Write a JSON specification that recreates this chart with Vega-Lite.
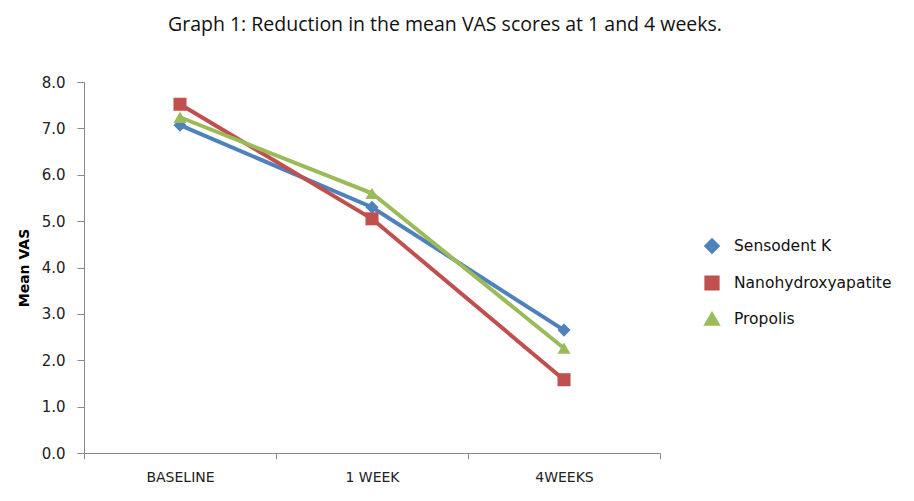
{
  "$schema": "https://vega.github.io/schema/vega-lite/v6.json",
  "width": 576,
  "height": 371,
  "autosize": {"type": "none"},
  "padding": {"left": 84, "top": 82, "right": 254, "bottom": 48},
  "background": "white",
  "title": {
    "text": "Graph 1: Reduction in the mean VAS scores at 1 and 4 weeks.",
    "font": "Open Sans",
    "fontSize": 19.5,
    "fontWeight": "normal",
    "color": "#111111",
    "anchor": "middle",
    "dx": 73,
    "offset": 40
  },
  "config": {"view": {"stroke": null}},
  "data": {
    "values": [
      {"time": "BASELINE", "group": "Sensodent K", "vas": 7.07},
      {"time": "1 WEEK", "group": "Sensodent K", "vas": 5.3},
      {"time": "4WEEKS", "group": "Sensodent K", "vas": 2.65},
      {"time": "BASELINE", "group": "Nanohydroxyapatite", "vas": 7.52},
      {"time": "1 WEEK", "group": "Nanohydroxyapatite", "vas": 5.05},
      {"time": "4WEEKS", "group": "Nanohydroxyapatite", "vas": 1.58},
      {"time": "BASELINE", "group": "Propolis", "vas": 7.24},
      {"time": "1 WEEK", "group": "Propolis", "vas": 5.6},
      {"time": "4WEEKS", "group": "Propolis", "vas": 2.26}
    ]
  },
  "encoding": {
    "x": {
      "field": "time",
      "type": "nominal",
      "sort": ["BASELINE", "1 WEEK", "4WEEKS"],
      "scale": {"paddingInner": 0, "paddingOuter": 0},
      "axis": {
        "title": null,
        "labelAngle": 0,
        "tickBand": "extent",
        "domainColor": "#888888",
        "tickColor": "#888888",
        "tickSize": 6,
        "labelFont": "DejaVu Sans",
        "labelFontSize": 14,
        "labelColor": "#222222",
        "labelPadding": 11
      }
    },
    "y": {
      "field": "vas",
      "type": "quantitative",
      "scale": {"domain": [0, 8]},
      "axis": {
        "title": "Mean VAS",
        "titleFont": "DejaVu Sans",
        "titleFontSize": 14,
        "titleFontWeight": "bold",
        "titleColor": "#000000",
        "titlePadding": 10,
        "format": ".1f",
        "values": [0, 1, 2, 3, 4, 5, 6, 7, 8],
        "labelOverlap": false,
        "grid": false,
        "domainColor": "#888888",
        "tickColor": "#888888",
        "tickSize": 7,
        "labelFont": "DejaVu Sans",
        "labelFontSize": 15,
        "labelColor": "#222222",
        "labelPadding": 12
      }
    },
    "color": {
      "field": "group",
      "type": "nominal",
      "sort": ["Sensodent K", "Nanohydroxyapatite", "Propolis"],
      "scale": {
        "domain": ["Sensodent K", "Nanohydroxyapatite", "Propolis"],
        "range": ["#4F81BD", "#C0504D", "#9BBB59"]
      },
      "legend": {
        "title": null,
        "orient": "none",
        "legendX": 620,
        "legendY": 156,
        "labelFont": "DejaVu Sans",
        "labelFontSize": 15.5,
        "labelColor": "#111111",
        "labelOffset": 14,
        "labelLimit": 300,
        "rowPadding": 11,
        "symbolSize": 150,
        "symbolStrokeWidth": 3
      }
    }
  },
  "layer": [
    {
      "mark": {"type": "line", "strokeWidth": 4}
    },
    {
      "mark": {"type": "point", "filled": true, "opacity": 1, "size": 170},
      "encoding": {
        "shape": {
          "field": "group",
          "type": "nominal",
          "sort": ["Sensodent K", "Nanohydroxyapatite", "Propolis"],
          "scale": {
            "domain": ["Sensodent K", "Nanohydroxyapatite", "Propolis"],
            "range": ["diamond", "square", "triangle-up"]
          },
          "legend": null
        }
      }
    }
  ]
}
